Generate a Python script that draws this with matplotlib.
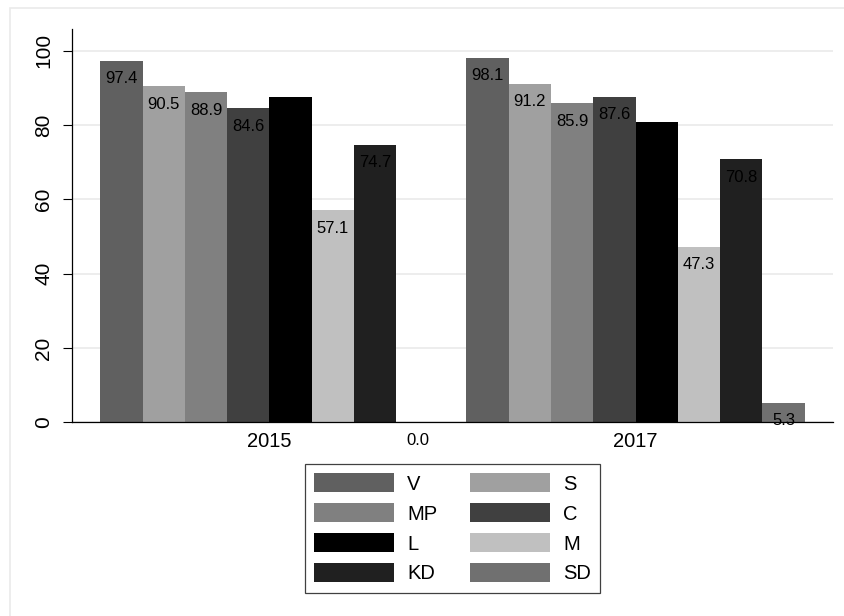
import matplotlib
matplotlib.use("Agg")
import matplotlib.pyplot as plt
from matplotlib.patches import Rectangle

plt.rcParams['font.family'] = ['Liberation Sans', 'DejaVu Sans']

# data
years = ['2015', '2017']
parties = ['V', 'S', 'MP', 'C', 'L', 'M', 'KD', 'SD']
share_2015 = [97.4, 90.5, 88.9, 84.6, 87.6, 57.1, 74.7, 0.0]
share_2017 = [98.1, 91.2, 85.9, 87.6, 80.8, 47.3, 70.8, 5.3]

# Stata s2mono greys
colors = ['#606060', '#a0a0a0', '#808080', '#404040',
          '#000000', '#c0c0c0', '#202020', '#707070']

W, H = 844, 616
fig = plt.figure(figsize=(W / 100, H / 100), dpi=100)
fig.patch.set_facecolor('white')

# faint outer graph-region frame
fig.add_artist(Rectangle((10 / W, -0.05), 1.2, 1 - 8 / H + 0.05,
                         transform=fig.transFigure, fill=False,
                         edgecolor='#eaeaea', linewidth=1.2))

ax = fig.add_axes([72 / W, 1 - 422.3 / H, (833 - 72) / W, (422.3 - 29.3) / H])

margin, gap = 0.67, 0.66
starts = [margin, margin + len(parties) + gap]
xmax = 2 * margin + 2 * len(parties) + gap

handles = []
for i, party in enumerate(parties):
    xs = [s + i + 0.5 for s in starts]
    vals = [share_2015[i], share_2017[i]]
    bars = ax.bar(xs, vals, width=1.0, color=colors[i], label=party,
                  linewidth=0, zorder=2)
    handles.append(bars)
    for x, v in zip(xs, vals):
        ax.annotate(f'{v:.1f}', (x, v), xytext=(0, -18),
                    textcoords='offset pixels', ha='center', va='center',
                    fontsize=12, color='black', zorder=4,
                    annotation_clip=False)

ax.set_xlim(0, xmax)
ax.set_ylim(0, 105.8)

ax.set_yticks([0, 20, 40, 60, 80, 100])
ax.set_yticklabels(['0', '20', '40', '60', '80', '100'], rotation=90,
                   va='center', fontsize=15)
ax.tick_params(axis='y', length=6.5, width=0.8, pad=7, direction='out')

ax.set_xticks([s + len(parties) / 2 for s in starts])
ax.set_xticklabels(years, fontsize=14.5)
ax.tick_params(axis='x', length=0, pad=6.8)

ax.yaxis.grid(True, color='#eaeaea', linewidth=1.2, zorder=0)
ax.set_axisbelow(True)

for side in ['top', 'right']:
    ax.spines[side].set_visible(False)
for side in ['left', 'bottom']:
    ax.spines[side].set_linewidth(0.9)
    ax.spines[side].set_color('black')
    ax.spines[side].set_zorder(3)

# Stata fills the legend row by row; matplotlib fills by column
order = [0, 2, 4, 6, 1, 3, 5, 7]
leg = fig.legend([handles[k] for k in order], [parties[k] for k in order],
                 loc='upper center', bbox_to_anchor=(452.5 / W, 1 - 464.3 / H),
                 ncol=2, fontsize=14.5, frameon=True, fancybox=False,
                 handlelength=3.98, handleheight=1.06, handletextpad=0.66,
                 columnspacing=1.6, labelspacing=0.48, borderpad=0.45,
                 borderaxespad=0)
leg.get_frame().set_edgecolor('#404040')
leg.get_frame().set_linewidth(0.9)
leg.get_frame().set_alpha(1)

fig.savefig('out.png', dpi=100, facecolor='white')
